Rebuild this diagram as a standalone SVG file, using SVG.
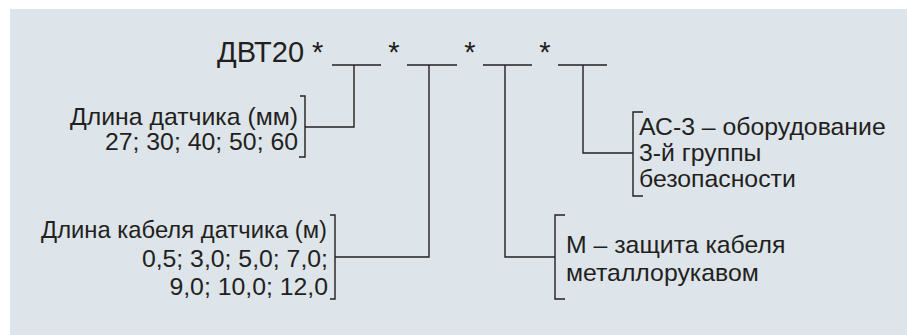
<svg xmlns="http://www.w3.org/2000/svg" width="907" height="335" viewBox="0 0 907 335">
<style>
.t{font-family:"Liberation Sans",Arial,sans-serif;font-size:24.8px;fill:#231f20}
.h{font-size:29px}
.e{text-anchor:end}
.m{text-anchor:middle}
.ln{fill:none;stroke:#231f20;stroke-width:1.4}
</style>
<rect x="10" y="9" width="897" height="326" fill="#dde4ea"/>
<g id="code">
<text class="t h" x="217" y="62">ДВТ20 *</text>
<text class="t h m" x="394" y="62">*</text>
<text class="t h m" x="470" y="62">*</text>
<text class="t h m" x="545" y="62">*</text>
<path class="ln" d="M332 65H381M407 65H457M483 65H532M558 65H607"/>
</g>
<g id="sensor-length">
<text class="t e" x="298" y="125">Длина датчика (мм)</text>
<text class="t e" x="298" y="150">27; 30; 40; 50; 60</text>
<path class="ln" d="M300 96H305V157H299"/>
</g>
<g id="cable-length">
<text class="t" x="41" y="238" textLength="286" lengthAdjust="spacingAndGlyphs">Длина кабеля датчика (м)</text>
<text class="t e" x="328" y="267">0,5; 3,0; 5,0; 7,0;</text>
<text class="t e" x="328" y="295">9,0; 10,0; 12,0</text>
<path class="ln" d="M330 215H335V299H330"/>
</g>
<g id="metal-sleeve">
<text class="t" x="566" y="253">М – защита кабеля</text>
<text class="t" x="566" y="281">металлорукавом</text>
<path class="ln" d="M565 215H555V299H565"/>
</g>
<g id="ac3">
<text class="t" x="639" y="135">АС-3 – оборудование</text>
<text class="t" x="639" y="161">3-й группы</text>
<text class="t" x="639" y="187">безопасности</text>
<path class="ln" d="M643 112H633V196H643"/>
</g>
<g id="connectors">
<path class="ln" d="M354 65V127H305"/>
<path class="ln" d="M429 65V257H335"/>
<path class="ln" d="M505 65V257H555"/>
<path class="ln" d="M583 65V153H633"/>
</g>
</svg>
